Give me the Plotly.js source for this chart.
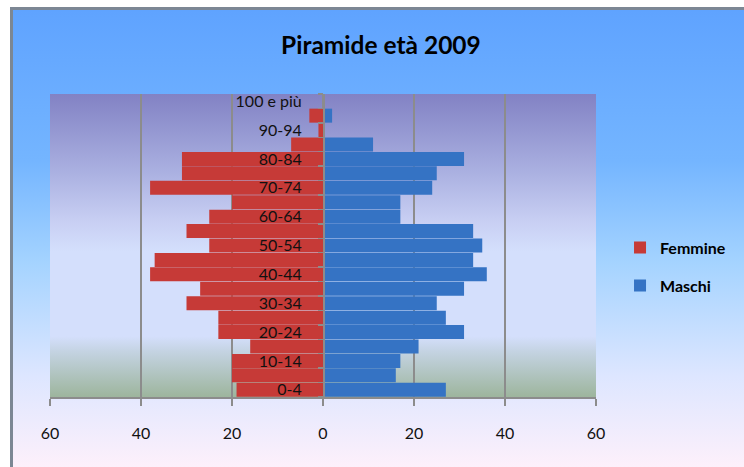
<!DOCTYPE html>
<html>
<head>
<meta charset="utf-8">
<script src="https://cdn.plot.ly/plotly-3.0.1.min.js"></script>
<style>
  html, body { margin: 0; padding: 0; background: #ffffff; width: 744px; height: 467px; overflow: hidden; }
  #frame {
    position: absolute; left: 10px; top: 7px; width: 740px; height: 457px;
    background: linear-gradient(to bottom, #5fa3ff 0%, #74b5ff 33%, #a4d3ff 55%, #dde6ff 80%, #fdf0fb 100%);
    border-left: 3px solid #7c8794; border-top: 3px solid #7c8794; border-bottom: 1px solid #c8c0c8;
  }
  #plotbg {
    position: absolute; left: 50px; top: 94px; width: 546px; height: 303px;
    background: linear-gradient(to bottom, #8282c4 0%, #a9afe0 25%, #c8cff3 42%, #d4dffc 52%, #d4dffc 80%, #c4d3e2 85%, #9db59d 100%);
  }
  #chart { position: absolute; left: 0; top: 0; width: 744px; height: 467px; }
</style>
</head>
<body>
<div id="frame"></div>
<div id="plotbg"></div>
<div id="chart"></div>
<script>
// Age classes (bottom to top)
var ages = ['0-4','5-9','10-14','15-19','20-24','25-29','30-34','35-39','40-44','45-49',
            '50-54','55-59','60-64','65-69','70-74','75-79','80-84','85-89','90-94','95-99','100 e più'];
// Values
var femmine = [19,20,20,16,23,23,30,27,38,37,25,30,25,20,38,31,31,7,1,3,0];
var maschi  = [27,16,17,21,31,27,25,31,36,33,35,33,17,17,24,25,31,11,0,2,0];
// Axis tick labels
var xTickVals = [-60,-40,-20,0,20,40,60];
var xTickText = ['60','40','20','0','20','40','60'];
var yTickText = ages.map(function (a, i) { return i % 2 === 0 ? a : ''; });

var FONT = 'Lato, "Open Sans", sans-serif';

var traces = [
  {
    type: 'bar', orientation: 'h', name: 'Femmine', legendgroup: 'f',
    y: ages, x: femmine.map(function (v) { return -v; }),
    marker: { color: '#c63a37' }, hoverinfo: 'skip'
  },
  {
    type: 'bar', orientation: 'h', name: 'Maschi', legendgroup: 'm',
    y: ages, x: maschi,
    marker: { color: '#3573c4' }, hoverinfo: 'skip'
  }
];

var layout = {
  width: 744, height: 467,
  margin: { l: 50, r: 148, t: 94, b: 70, pad: 0 },
  paper_bgcolor: 'rgba(0,0,0,0)',
  plot_bgcolor: 'rgba(0,0,0,0)',
  barmode: 'overlay',
  bargap: 0.03,
  title: {
    text: 'Piramide età 2009',
    font: { family: FONT, size: 24.5, color: '#000000', weight: 700 },
    x: 0.512, xanchor: 'center', xref: 'container',
    y: 0.902, yanchor: 'middle', yref: 'container'
  },
  xaxis: {
    range: [-60, 60], fixedrange: true,
    tickmode: 'array', tickvals: xTickVals, ticktext: xTickText,
    showgrid: true, gridcolor: '#8c8c8c', gridwidth: 1.5,
    zeroline: false,
    showline: true, linecolor: '#8c8c8c', linewidth: 1.5,
    ticks: 'outside', ticklen: 7, tickcolor: '#8c8c8c', tickwidth: 1.5,
    ticklabelstandoff: 14,
    tickfont: { family: FONT, size: 16, color: '#111111' }
  },
  yaxis: {
    type: 'category', categoryorder: 'array', categoryarray: ages,
    range: [-0.5, 20.5], fixedrange: true,
    anchor: 'free', position: 0.5,
    tickmode: 'array', tickvals: ages, ticktext: yTickText,
    tickson: 'boundaries',
    showgrid: false, zeroline: false,
    showline: true, linecolor: '#8c8c8c', linewidth: 1.5,
    ticks: 'outside', ticklen: 5, tickcolor: '#8c8c8c', tickwidth: 1.5,
    ticklabelstandoff: 18,
    tickfont: { family: FONT, size: 16, color: '#111111' }
  },
  showlegend: true,
  legend: {
    x: 1.044, xanchor: 'left', y: 0.43, yanchor: 'middle',
    traceorder: 'grouped', tracegroupgap: 14,
    bgcolor: 'rgba(0,0,0,0)',
    font: { family: FONT, size: 16, color: '#000000', weight: 700 }
  }
};

Plotly.newPlot('chart', traces, layout, { staticPlot: true, displayModeBar: false });
</script>
</body>
</html>
